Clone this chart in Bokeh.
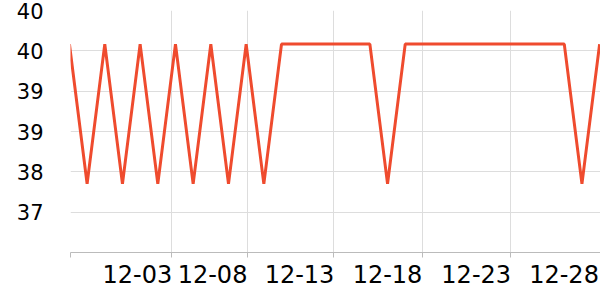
from bokeh.plotting import figure
from bokeh.models import (Range1d, FixedTicker, NumeralTickFormatter, LinearAxis,
                          CustomJSTickFormatter)
from bokeh.embed import file_html
from bokeh.resources import INLINE

# day index (one point per day) and values
day_index = list(range(31))
values = [39.9, 37.82, 39.9, 37.82, 39.9, 37.82, 39.9, 37.82, 39.9, 37.82,
          39.9, 37.82, 39.9, 39.9, 39.9, 39.9, 39.9, 39.9, 37.82, 39.9,
          39.9, 39.9, 39.9, 39.9, 39.9, 39.9, 39.9, 39.9, 39.9, 37.82, 39.9]

# axis ticks (positions in day-index units, as they appear on the reference)
x_grid_ticks = [0.06, 5.80, 10.05, 14.97, 19.95, 24.97]
x_label_end = [5.80, 10.05, 14.97, 19.95, 24.97, 29.94]
x_tick_labels = ["12-03", "12-08", "12-13", "12-18", "12-23", "12-28"]
y_ticks = [37.4, 38.0, 38.6, 39.2, 39.8, 40.4]

FONT = "DejaVu Sans"
X_START, X_END = 0.06, 30.05
FRAME_W = 530
px_per_unit = FRAME_W / (X_END - X_START)
label_half_w = 34.5 / px_per_unit   # labels are right-aligned to their tick
x_label_centers = [t - label_half_w for t in x_label_end]

p = figure(width=600, height=300, output_backend="svg", toolbar_location=None,
           x_range=Range1d(X_START, X_END), y_range=Range1d(36.8, 40.4),
           min_border_left=70, min_border_right=0, min_border_top=10, min_border_bottom=48)
p.outline_line_color = None
p.background_fill_color = "white"
p.border_fill_color = "white"

p.line(day_index, values, line_color="#EF4B2E", line_width=3)

# x axis: tick marks / axis line only
p.xaxis.ticker = FixedTicker(ticks=x_grid_ticks)
p.xaxis.major_label_text_color = None
p.xaxis.major_label_text_font_size = "1px"
p.xaxis.major_label_standoff = 0
p.xaxis.axis_line_color = "#bbbbbb"
p.xaxis.major_tick_line_color = "#bbbbbb"
p.xaxis.major_tick_out = 5
p.xaxis.major_tick_in = 0
p.xaxis.minor_tick_line_color = None
p.xgrid.ticker = FixedTicker(ticks=x_grid_ticks)
p.xgrid.grid_line_color = "#dddddd"

# x labels axis
lab_axis = LinearAxis(ticker=FixedTicker(ticks=x_label_centers),
                      formatter=CustomJSTickFormatter(args=dict(labels=x_tick_labels),
                                                      code="return labels[index]"))
lab_axis.axis_line_color = None
lab_axis.major_tick_line_color = None
lab_axis.minor_tick_line_color = None
lab_axis.major_tick_out = 0
lab_axis.major_tick_in = 0
lab_axis.major_label_standoff = 7
lab_axis.major_label_text_font = FONT
lab_axis.major_label_text_font_size = "24px"
lab_axis.major_label_text_color = "black"
p.add_layout(lab_axis, "below")

# y axis
p.yaxis.ticker = FixedTicker(ticks=y_ticks)
p.yaxis.formatter = NumeralTickFormatter(format="0")
p.yaxis.axis_line_color = None
p.yaxis.major_tick_line_color = None
p.yaxis.minor_tick_line_color = None
p.yaxis.major_tick_out = 0
p.yaxis.major_label_standoff = 27
p.yaxis.major_label_text_font = FONT
p.yaxis.major_label_text_font_size = "21px"
p.yaxis.major_label_text_color = "black"
p.ygrid.grid_line_color = "#dddddd"

open("out.html", "w").write(file_html(p, INLINE))
